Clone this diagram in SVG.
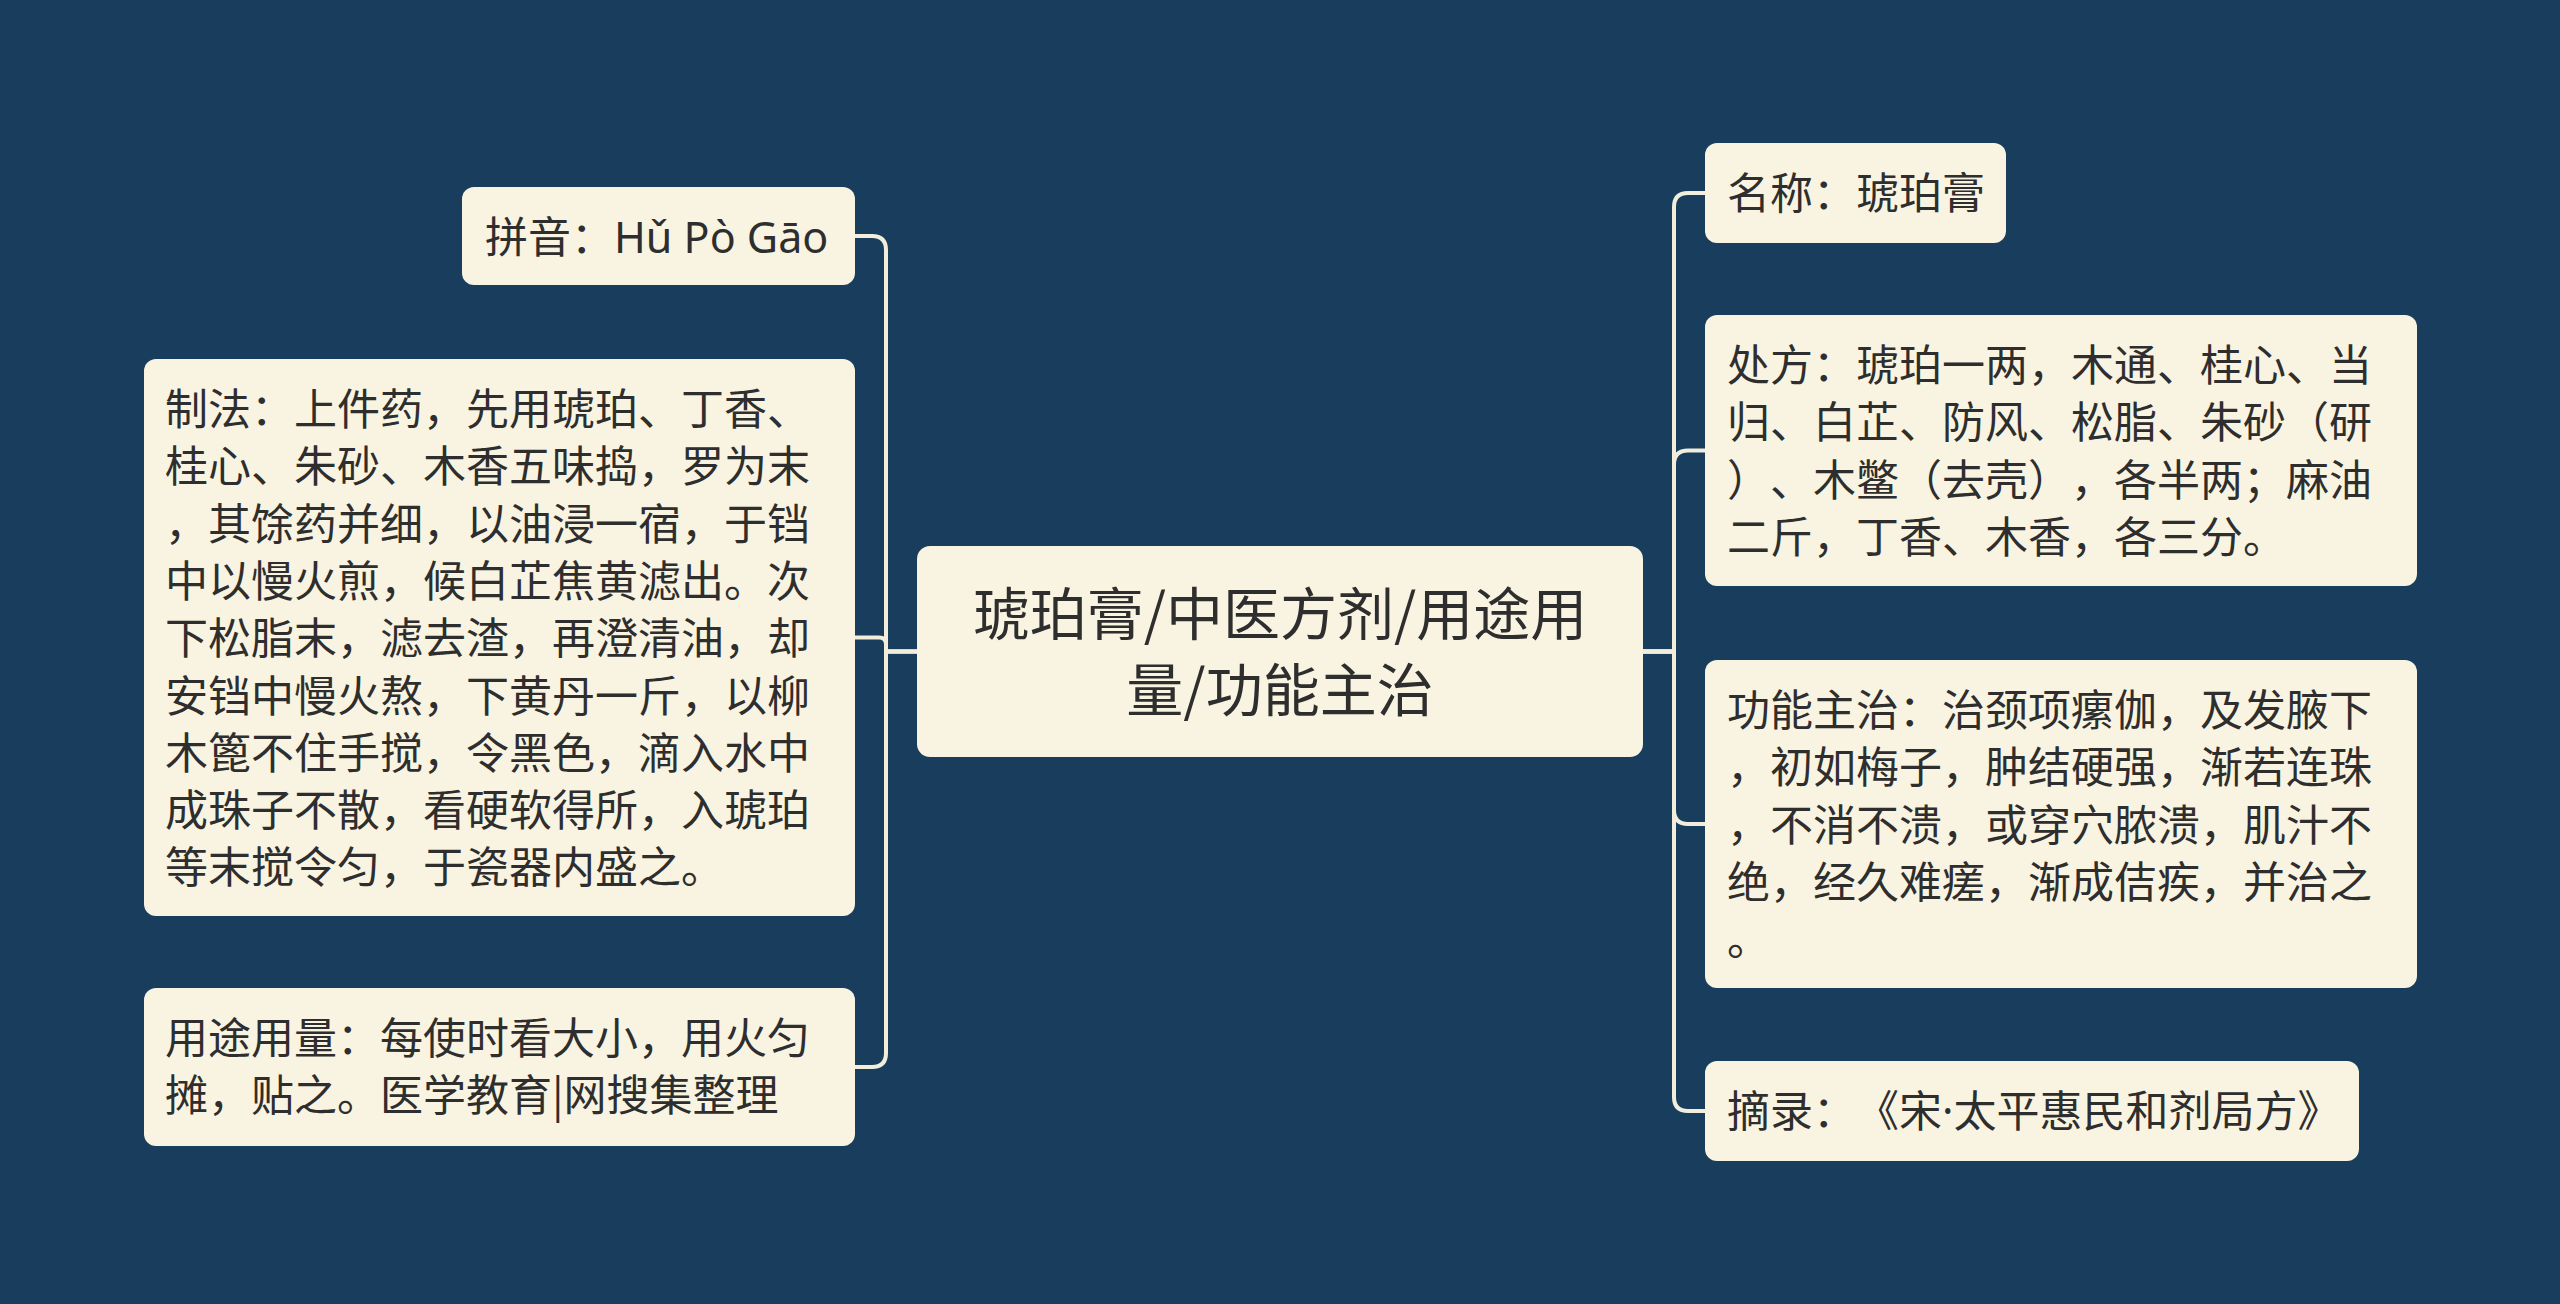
<svg xmlns="http://www.w3.org/2000/svg" width="2560" height="1304" viewBox="0 0 2560 1304">
<style>
.bg{fill:#183d5d}
.node rect{fill:#f9f4e1}
.t{font-family:"Noto Sans CJK SC","Noto Sans",sans-serif;font-size:43px;fill:#2e2e2e;text-spacing-trim:space-all}
.tc{font-size:57px;text-anchor:middle}
.lat{font-family:"Noto Sans","Noto Sans CJK SC",sans-serif}
.edge{fill:none;stroke:#f3eedb;stroke-width:4;stroke-linejoin:round}
</style>
<rect class="bg" x="0" y="0" width="2560" height="1304"/>
<g id="connectors">
<path class="edge" d="M917 651.5 H886 V250 Q886 236 872 236 H855"/>
<path class="edge" d="M917 651.5 H886 V644.5 Q886 637.5 879 637.5 H855"/>
<path class="edge" d="M917 651.5 H886 V1053 Q886 1067 872 1067 H855"/>
<path class="edge" d="M1643 651.5 H1674 V207 Q1674 193 1688 193 H1705"/>
<path class="edge" d="M1643 651.5 H1674 V464.5 Q1674 450.5 1688 450.5 H1705"/>
<path class="edge" d="M1643 651.5 H1674 V810 Q1674 824 1688 824 H1705"/>
<path class="edge" d="M1643 651.5 H1674 V1097 Q1674 1111 1688 1111 H1705"/>
</g>
<g id="center" class="node">
<rect x="917" y="546" width="726" height="211" rx="13"/>
<text class="t tc"><tspan x="1280" y="635">琥珀膏/中医方剂/用途用</tspan><tspan x="1280" y="711">量/功能主治</tspan></text>
</g>
<g id="pinyin" class="node">
<rect x="462" y="187" width="393" height="98" rx="12"/>
<text class="t" x="485" y="253">拼音：<tspan class="lat">Hǔ Pò Gāo</tspan></text>
</g>
<g id="zhifa" class="node">
<rect x="144" y="359" width="711" height="557" rx="12"/>
<text class="t"><tspan x="165" y="425">制法：上件药，先用琥珀、丁香、</tspan><tspan x="165" y="482.3">桂心、朱砂、木香五味捣，罗为末</tspan><tspan x="165" y="539.6">，其馀药并细，以油浸一宿，于铛</tspan><tspan x="165" y="596.9">中以慢火煎，候白芷焦黄滤出。次</tspan><tspan x="165" y="654.2">下松脂末，滤去渣，再澄清油，却</tspan><tspan x="165" y="711.5">安铛中慢火熬，下黄丹一斤，以柳</tspan><tspan x="165" y="768.8">木篦不住手搅，令黑色，滴入水中</tspan><tspan x="165" y="826.1">成珠子不散，看硬软得所，入琥珀</tspan><tspan x="165" y="883.4">等末搅令匀，于瓷器内盛之。</tspan></text>
</g>
<g id="yongtu" class="node">
<rect x="144" y="988" width="711" height="158" rx="12"/>
<text class="t"><tspan x="165" y="1054">用途用量：每使时看大小，用火匀</tspan><tspan x="165" y="1111.3">摊，贴之。医学教育|网搜集整理</tspan></text>
</g>
<g id="mingcheng" class="node">
<rect x="1705" y="143" width="301" height="100" rx="12"/>
<text class="t" x="1727" y="209">名称：琥珀膏</text>
</g>
<g id="chufang" class="node">
<rect x="1705" y="315" width="712" height="271" rx="12"/>
<text class="t"><tspan x="1727" y="381">处方：琥珀一两，木通、桂心、当</tspan><tspan x="1727" y="438.3">归、白芷、防风、松脂、朱砂（研</tspan><tspan x="1727" y="495.6">）、木鳖（去壳），各半两；麻油</tspan><tspan x="1727" y="552.9">二斤，丁香、木香，各三分。</tspan></text>
</g>
<g id="gongneng" class="node">
<rect x="1705" y="660" width="712" height="328" rx="12"/>
<text class="t"><tspan x="1727" y="726">功能主治：治颈项瘰伽，及发腋下</tspan><tspan x="1727" y="783.3">，初如梅子，肿结硬强，渐若连珠</tspan><tspan x="1727" y="840.6">，不消不溃，或穿穴脓溃，肌汁不</tspan><tspan x="1727" y="897.9">绝，经久难瘥，渐成佶疾，并治之</tspan><tspan x="1727" y="955.2">。</tspan></text>
</g>
<g id="zhailu" class="node">
<rect x="1705" y="1061" width="654" height="100" rx="12"/>
<text class="t" x="1727" y="1127">摘录：《宋<tspan class="lat">·</tspan>太平惠民和剂局方》</text>
</g>
</svg>
